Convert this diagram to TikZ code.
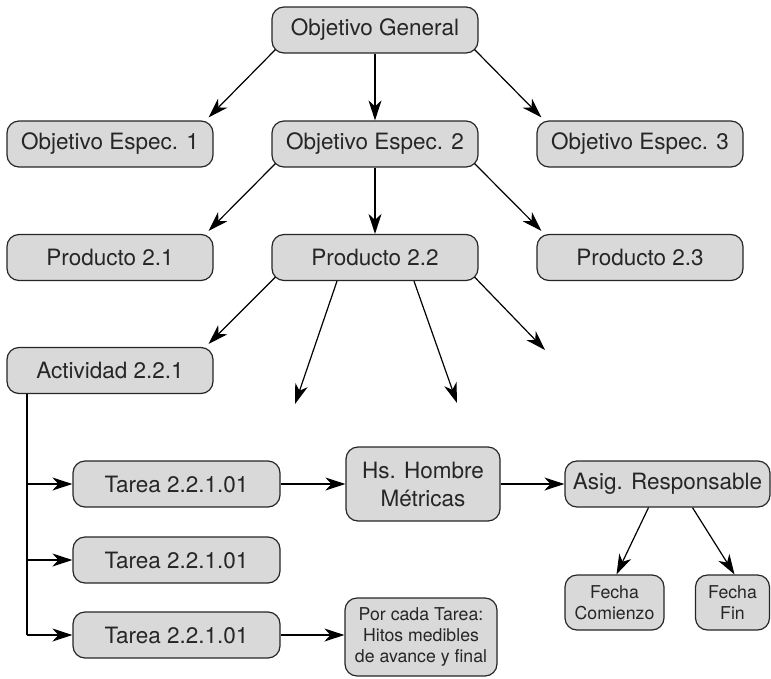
\documentclass[tikz,border=0pt]{standalone}
\usepackage{fontspec}
\setmainfont{TeX Gyre Heros}
\usetikzlibrary{arrows.meta,calc}
\definecolor{boxfill}{HTML}{D9D9D9}
\definecolor{ink}{HTML}{262626}

\begin{document}
\begin{tikzpicture}[x=1pt,y=-1pt,
  box/.style={draw=ink, fill=boxfill, rounded corners=12pt, line width=1.2pt,
    inner sep=0pt, align=center, text=ink,
    font=\fontsize{22.5}{28}\selectfont},
  smallbox/.style={box, font=\fontsize{17.7}{21}\selectfont},
  link/.style={draw=black, line width=1.2pt,
    -{Stealth[length=20pt,width=13pt,inset=6pt]}},
  plain/.style={draw=black, line width=1.2pt}]
\useasboundingbox (0,0) rectangle (771,678);

% goal levels
\node[box, minimum width=206pt, minimum height=46pt] (og)  at (375,30)    {Objetivo General};
\node[box, minimum width=206pt, minimum height=46pt] (oe1) at (110,144)   {Objetivo Espec. 1};
\node[box, minimum width=206pt, minimum height=46pt] (oe2) at (375,144)   {Objetivo Espec. 2};
\node[box, minimum width=206pt, minimum height=46pt] (oe3) at (640,144)   {Objetivo Espec. 3};
% products
\node[box, minimum width=206pt, minimum height=46pt] (p21) at (110,257.5) {Producto 2.1};
\node[box, minimum width=206pt, minimum height=46pt] (p22) at (375,257.5) {Producto 2.2};
\node[box, minimum width=206pt, minimum height=46pt] (p23) at (640,257.5) {Producto 2.3};
% activity and tasks
\node[box, minimum width=206pt, minimum height=46pt] (act) at (110,370.5) {Actividad 2.2.1};
\node[box, minimum width=207pt, minimum height=46pt] (t1)  at (176.5,484) {Tarea 2.2.1.01};
\node[box, minimum width=207pt, minimum height=46pt] (t2)  at (176.5,560) {Tarea 2.2.1.01};
\node[box, minimum width=207pt, minimum height=46pt] (t3)  at (176.5,635) {Tarea 2.2.1.01};
% task details
\node[box, minimum width=154pt, minimum height=74pt] (hs)  at (423,484)   {Hs. Hombre\\Métricas};
\node[box, minimum width=205pt, minimum height=46pt] (asg) at (667.5,484) {Asig. Responsable};
\node[smallbox, minimum width=99pt, minimum height=55pt] (fc) at (614.5,602.5) {Fecha\\Comienzo};
\node[smallbox, minimum width=74pt, minimum height=55pt] (ff) at (732.5,602.5) {Fecha\\Fin};
\node[smallbox, minimum width=152pt, minimum height=78pt] (hit) at (421,637) {Por cada Tarea:\\Hitos medibles\\de avance y final};

% open ends below Producto 2.2
\coordinate (x1) at (295,404);
\coordinate (x2) at (457,403);
\coordinate (x3) at (545,350);

% tree connectors
\draw[link] ([shift={(4,-4)}]og.south west) -- ([shift={(-5,-3)}]oe1.north east);
\draw[link] (og.south) -- (oe2.north);
\draw[link] ([shift={(-4,-4)}]og.south east) -- ([shift={(5,-3)}]oe3.north west);
\draw[link] ([shift={(4,-4)}]oe2.south west) -- ([shift={(-5,-3)}]p21.north east);
\draw[link] (oe2.south) -- (p22.north);
\draw[link] ([shift={(-4,-4)}]oe2.south east) -- ([shift={(5,-3)}]p23.north west);
\draw[link] ([shift={(4,-4)}]p22.south west) -- ([shift={(-5,-3)}]act.north east);
\draw[link] ([xshift=-38pt]p22.south) -- (x1);
\draw[link] ([xshift=39pt]p22.south) -- (x2);
\draw[link] ([shift={(-4,-4)}]p22.south east) -- (x3);

% activity to tasks
\coordinate (trunk) at ([xshift=-83pt]act.south);
\draw[plain] (trunk) -- (trunk |- t3.west);
\draw[link] (trunk |- t1.west) -- (t1.west);
\draw[link] (trunk |- t2.west) -- (t2.west);
\draw[link] (trunk |- t3.west) -- (t3.west);

% task details
\draw[link] (t1.east) -- (hs.west);
\draw[link] (hs.east) -- (asg.west);
\draw[link] (t3.east) -- (t3.east -| hit.west);
\draw[link] ([xshift=-19pt]asg.south) -- ([xshift=2pt]fc.north);
\draw[link] ([xshift=25pt]asg.south) -- ([xshift=2pt]ff.north);
\end{tikzpicture}
\end{document}
